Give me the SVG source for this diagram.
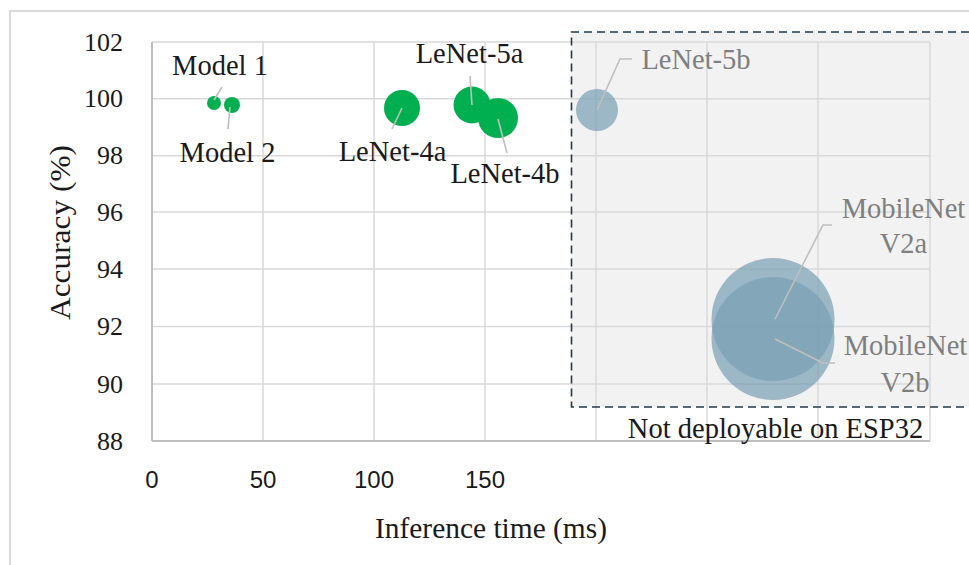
<svg xmlns="http://www.w3.org/2000/svg" width="969" height="565" viewBox="0 0 969 565">
<defs>
<style>
.grid{stroke:#d9d9d9;stroke-width:1.5;fill:none}
.axis{stroke:#bfbfbf;stroke-width:2;fill:none}
.lbl{font-family:"Liberation Serif","Times New Roman",serif;font-size:28.5px;fill:#1a1a1a;text-anchor:middle}
.lbl.dim{fill:#7f7f7f}
.tick{font-family:"Liberation Serif","Times New Roman",serif;font-size:26px;fill:#1a1a1a;text-anchor:end}
.xtick{font-family:"Liberation Sans",Arial,sans-serif;font-size:24px;fill:#1a1a1a;text-anchor:middle}
.green{fill:#00b050}
.blue{fill:#7aa0b3;fill-opacity:0.72}
.leader{stroke:#bfbfbf;stroke-width:1.6;fill:none}
</style>
</defs>
<rect width="969" height="565" fill="#ffffff"/>
<!-- outer chart border -->
<path d="M10,565 V11 H969" fill="none" stroke="#d9d9d9" stroke-width="2"/>
<!-- not deployable region fill -->
<rect id="region-fill" x="571" y="32" width="400" height="375" fill="#f2f2f2"/>
<!-- gridlines -->
<g id="grid">
<path class="grid" d="M152,42H930 M152,98.7H930 M152,155.7H930 M152,212H930 M152,269H930 M152,326.5H930 M152,384H930"/>
<path class="grid" d="M263,42V441 M374,42V441 M485,42V441 M596,42V441 M707,42V441 M818,42V441 M930,42V441"/>
<path class="axis" d="M152,42V441 M152,441H930"/>
</g>
<g id="y-ticks">
<text class="tick" x="123" y="50.5">102</text>
<text class="tick" x="123" y="107.2">100</text>
<text class="tick" x="123" y="164.2">98</text>
<text class="tick" x="123" y="220.5">96</text>
<text class="tick" x="123" y="277.5">94</text>
<text class="tick" x="123" y="335">92</text>
<text class="tick" x="123" y="392.5">90</text>
<text class="tick" x="123" y="449.5">88</text>
</g>
<g id="x-ticks">
<text class="xtick" x="152" y="488">0</text>
<text class="xtick" x="263" y="488">50</text>
<text class="xtick" x="374" y="488">100</text>
<text class="xtick" x="485" y="488">150</text>
</g>
<text id="y-title" class="lbl" transform="translate(70,232.5) rotate(-90)" textLength="175" lengthAdjust="spacingAndGlyphs">Accuracy (%)</text>
<text id="x-title" class="lbl" x="491" y="538" textLength="232" lengthAdjust="spacingAndGlyphs">Inference time (ms)</text>
<!-- bubbles -->
<g id="model1"><circle class="green" cx="214" cy="103" r="7"/><text class="lbl" x="220" y="75">Model 1</text></g>
<g id="model2"><circle class="green" cx="232" cy="105" r="8"/><text class="lbl" x="227.5" y="162">Model 2</text></g>
<g id="lenet4a"><circle class="green" cx="402" cy="108" r="18"/><text class="lbl" x="392.5" y="161">LeNet-4a</text></g>
<g id="lenet5a"><circle class="green" cx="472" cy="105" r="18.5"/><text class="lbl" x="469.5" y="63">LeNet-5a</text></g>
<g id="lenet4b"><circle class="green" cx="498" cy="118" r="20"/><text class="lbl" x="505" y="183">LeNet-4b</text></g>
<g id="lenet5b"><circle class="blue" cx="597" cy="110" r="21"/><text class="lbl dim" x="696" y="69">LeNet-5b</text></g>
<g id="mobilenetv2a"><circle class="blue" cx="773" cy="319.5" r="61.5"/><text class="lbl dim" x="903.5" y="218">MobileNet</text><text class="lbl dim" x="903.5" y="253">V2a</text></g>
<g id="mobilenetv2b"><circle class="blue" cx="773" cy="338.5" r="61.5"/><text class="lbl dim" x="905.5" y="355">MobileNet</text><text class="lbl dim" x="905" y="392">V2b</text></g>
<!-- leader lines -->
<g id="connectors">
<path class="leader" d="M214,100 L222,87"/>
<path class="leader" d="M230,107 L228,129"/>
<path class="leader" d="M402,108 L392,129"/>
<path class="leader" d="M472,105 L470,76"/>
<path class="leader" d="M498,119 L507,153"/>
<path class="leader" d="M597,110 L620,59 H632"/>
<path class="leader" d="M775,319 L823,225 H832"/>
<path class="leader" d="M775,339 L823,363 H835"/>
</g>
<!-- region boundary -->
<g id="not-deployable">
<path d="M969,32 H571.5 V407 H969" fill="none" stroke="#1f3b4d" stroke-width="1.6" stroke-dasharray="8 5"/>
<text class="lbl" x="775.5" y="438">Not deployable on ESP32</text>
</g>
</svg>
